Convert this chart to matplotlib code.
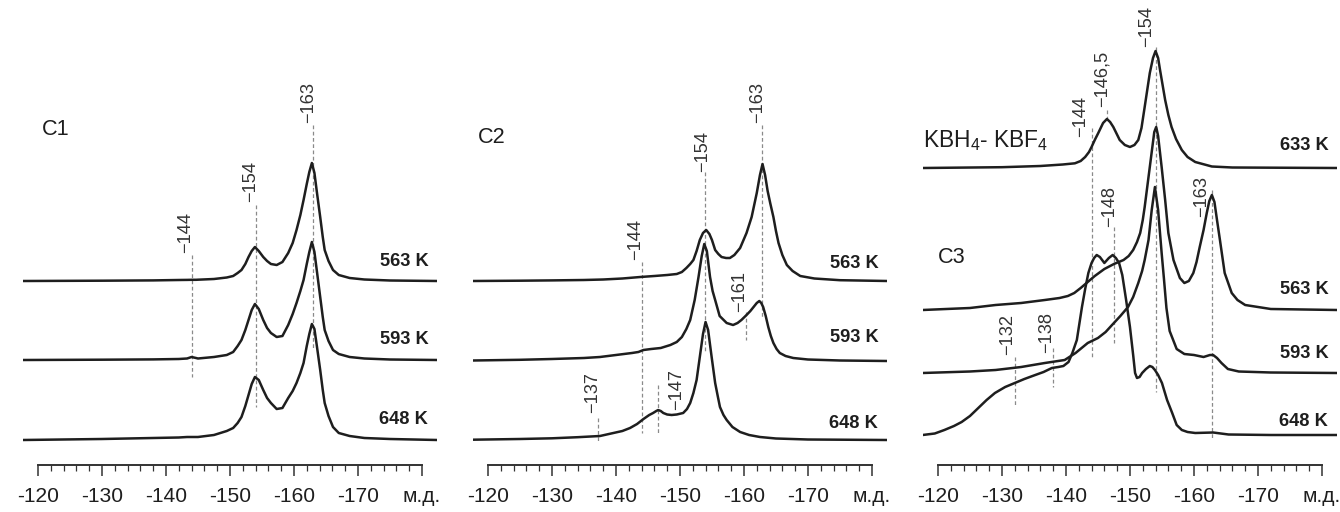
import matplotlib
matplotlib.use('Agg')
import matplotlib.pyplot as plt
from matplotlib import font_manager
from matplotlib.ticker import FixedLocator, FixedFormatter

# --- 11B spectra (ppm, intensity in arb. units) ---

# C1: one shift grid for all three temperatures
c1_ppm = [-117.6, -130, -138, -142, -143.3, -144, -144.7, -145, -147.5, -149.5,
          -150.5, -151.2, -151.8, -152.4, -152.9, -153.4, -153.9, -154.5, -155.2, -155.8,
          -156.4, -157.3, -158.2, -159.1, -159.8, -160.4, -161.0, -161.5, -162.0, -162.4,
          -162.8, -163.2, -163.6, -164.1, -164.5, -164.8, -165.4, -166.1, -167.0, -168.7,
          -171, -175, -182.4]
c1_563 = [0, 0.3, 0.6, 1, 1.1, 1.2, 1.2, 1.3, 2, 3.5,
          5, 8, 11, 17, 24, 30, 34, 30, 24, 20,
          17, 16, 19, 28, 38, 51, 66, 81, 97, 109,
          118, 108, 88, 64, 44, 31, 20, 11, 6, 3,
          1.5, 0.5, 0]
c1_593 = [0, 0.3, 0.6, 1, 1.5, 3, 2, 1.5, 3, 5,
          8, 14, 20, 30, 40, 50, 56, 51, 40, 32,
          27, 23, 24, 35, 46, 57, 69, 80, 96, 108,
          118, 108, 88, 63, 43, 30, 19, 10, 6, 3,
          1.5, 0.5, 0]
c1_648 = [0, 1, 2, 2.5, 3, 3, 3, 3, 5, 9,
          12, 17, 23, 34, 45, 56, 63, 60, 50, 42,
          37, 31, 32, 42, 49, 57, 67, 77, 94, 106,
          116, 111, 93, 70, 50, 37, 24, 13, 7, 4,
          2, 1, 0]

# C2
c2_563_ppm = [-117.6, -125, -130, -135, -138, -141, -143.8, -146, -148, -149.5,
              -150.3, -151.0, -151.6, -152.1, -152.6, -153.1, -153.6, -154.1, -154.6, -155.0,
              -155.5, -156.0, -156.5, -157.2, -157.8, -158.5, -159.4, -160.4, -161.2, -162.0,
              -162.5, -162.9, -163.3, -163.7, -164.1, -164.6, -165.0, -165.4, -166.0, -166.7,
              -167.6, -168.8, -171, -175, -182.4]
c2_563 = [0, 0.3, 0.6, 1, 1.5, 2.5, 4, 5, 6, 7,
          9, 13, 17, 21, 30, 41, 48, 51, 47, 41,
          31, 27, 24, 23, 23, 26, 33, 48, 64, 88,
          106, 117, 106, 90, 78, 64, 50, 38, 26, 16,
          10, 5, 2.5, 0.8, 0]
c2_593_ppm = [-117.6, -125, -130, -135, -137.5, -140, -142.5, -143.5, -144.3, -145.5,
              -147, -148.5, -149.5, -150.3, -151.0, -151.6, -152.3, -152.9, -153.4, -153.8,
              -154.2, -154.7, -155.1, -155.5, -156.2, -157.3, -158.3, -159.0, -159.6, -160.4,
              -161.0, -161.5, -162.0, -162.4, -162.7, -163.0, -163.4, -163.8, -164.2, -164.6,
              -165.1, -165.6, -166.5, -167.7, -170, -175, -182.4]
c2_593 = [0.5, 1.2, 2, 3, 4, 6, 8, 9, 11, 12,
          13, 16, 19, 24, 32, 41, 61, 84, 105, 117,
          110, 84, 70, 61, 45, 38, 36, 38, 41, 46,
          50, 54, 58, 60, 58, 54, 45, 34, 25, 18,
          12, 8, 5, 3, 1.5, 0.5, 0]
c2_648_ppm = [-117.6, -125, -130, -134, -137.5, -139.6, -141, -142.2, -143.3, -144.3,
              -145.2, -145.8, -146.3, -146.6, -147.0, -147.4, -148.0, -148.7, -149.5, -150.5,
              -151.1, -151.6, -152.1, -152.6, -153.1, -153.6, -154.0, -154.4, -154.95, -155.5,
              -155.9, -156.25, -156.8, -157.3, -158.2, -159.4, -160.8, -162.5, -165, -170,
              -182.4]
c2_648 = [0.3, 1, 1.7, 2.8, 4, 7, 9, 12, 16, 21,
          25, 27, 29, 30, 29, 27, 25.5, 25, 25.5, 27,
          31, 37, 47, 60, 83, 106, 118, 110, 83, 57,
          44, 33, 25, 20, 13, 8, 5, 3, 1.5, 0.5,
          0]

# C3 and the KBH4-KBF4 reference
c3_633_ppm = [-117.6, -130, -136, -139.5, -141.4, -142.3, -143.0, -143.6, -144.0, -144.5,
              -145.05, -145.8, -146.4, -146.9, -147.4, -148.4, -149.2, -150.0, -150.7, -151.3,
              -151.8, -152.3, -152.7, -153.1, -153.6, -154.0, -154.4, -154.7, -155.1, -155.5,
              -156.0, -156.5, -157.2, -158.1, -159.0, -160.2, -162.8, -166, -182.4]
c3_633 = [0, 0.8, 2, 3.5, 4.7, 7, 11, 16, 21, 28,
          35, 45, 49, 46, 41, 28, 23, 21, 23, 28,
          40, 61, 78, 95, 110, 117, 110, 98, 83, 68,
          53, 41, 29, 18, 11, 6, 1.5, 0.5, 0]
c3_563_ppm = [-117.6, -125, -129, -133, -136.7, -139, -140.3, -141.3, -142.3, -143.4,
              -144.5, -146, -147.5, -149.0, -149.8, -150.5, -151.1, -151.6, -152.0, -152.3,
              -152.7, -153.1, -153.5, -153.8, -154.1, -154.4, -154.95, -155.5, -156.0, -156.8,
              -157.8, -158.5, -159.2, -159.9, -160.4, -160.9, -161.5, -162.0, -162.4, -162.8,
              -163.2, -163.6, -164.06, -164.8, -165.9, -166.8, -168, -172, -182.4]
c3_563 = [0, 2, 5, 7, 10, 12, 14, 17, 22, 28,
          34, 41, 46, 50, 54, 60, 68, 77, 90, 103,
          123, 143, 163, 178, 183, 174, 143, 110, 77, 50,
          32, 27, 29, 37, 48, 63, 80, 97, 109, 115,
          108, 90, 70, 37, 17, 10, 5, 1, 0]
c3_593_ppm = [-117.6, -125, -129, -133, -136.7, -139.8, -141.5, -143.4, -145.0, -146.2,
              -147.2, -148.5, -149.7, -150.5, -151.3, -151.9, -152.3, -152.9, -153.4, -153.9,
              -154.4, -154.95, -155.3, -155.7, -156.2, -157.3, -158.5, -160.0, -161.5, -162.5,
              -163.0, -163.6, -164.3, -165.3, -167, -172, -182.4]
c3_593 = [0, 1.5, 3, 6, 10, 13, 20, 30, 35, 41,
          48, 57, 66, 76, 90, 102, 113, 133, 163, 186,
          163, 120, 95, 65, 42, 24, 19, 18, 16, 18,
          18, 15, 10, 4, 1.5, 0.5, 0]
c3_648_ppm = [-117.6, -119.5, -121, -122.5, -123.7, -125, -126.3, -127.6, -128.9, -130.5,
              -132, -133.5, -135.2, -136.5, -137.8, -138.8, -139.6, -140.4, -141.0, -141.7,
              -142.5, -143.0, -143.5, -144.0, -144.4, -144.8, -145.3, -146.0, -146.7, -147.3,
              -147.8, -148.3, -148.8, -149.4, -150.0, -150.5, -150.8, -151.1, -151.5, -151.9,
              -152.5, -153.1, -153.5, -153.9, -154.4, -155.0, -155.8, -156.6, -157.3, -158.1,
              -159.0, -160.2, -163.0, -165.4, -172, -182.4]
c3_648 = [0, 1.5, 5, 9, 13, 19, 27, 35, 42, 48,
          52, 56, 60, 63, 67, 68, 69, 73, 82, 95,
          128, 146, 162, 172, 177, 180, 178, 172, 177, 180,
          177, 172, 160, 135, 108, 80, 62, 57, 58, 62,
          66, 69, 68, 65, 60, 52, 35, 22, 10, 5,
          3, 2, 2.5, 0.5, 0, 0]

# marked shifts (dashed lines) and their labels
c1_peaks = [-144, -154, -163]
c1_peak_labels = ['\u2212144', '\u2212154', '\u2212163']
c2_peaks = [-144, -153.9, -162.8, -160.3, -146.6, -137.2]
c2_peak_labels = ['\u2212144', '\u2212154', '\u2212163', '\u2212161', '\u2212147', '\u2212137']
c3_peaks = [-154, -146.4, -144, -147.5, -162.8, -132, -138]
c3_peak_labels = ['\u2212154', '\u2212146,5', '\u2212144', '\u2212148', '\u2212163', '\u2212132', '\u2212138']

tick_values = [-120, -130, -140, -150, -160, -170, -180]
tick_labels = ['-120', '-130', '-140', '-150', '-160', '-170', 'м.д.']

# --- layout (pixels of the 1340x512 picture, y measured from the top) ---
# dashed line: top, bottom, label bottom, label x shift, label side
c1_marks = [(255, 377, 253, 0, 'l'), (205, 407, 202, 1, 'l'), (125, 350, 123, 1, 'l')]
c2_marks = [(262, 433, 260, 0, 'l'), (172, 353, 172, 3, 'l'), (125, 317, 123, 1, 'l'),
            (312, 340, 312, -1, 'l'), (385, 433, 410, 10, 'r'), (418, 443, 413, 0, 'l')]
c3_marks = [(47, 392, 47, -3, 'l'), (110, 119, 107, 1, 'l'), (128, 358, 137, -5, 'l'),
            (227, 343, 227, 1, 'l'), (190, 440, 217, -5, 'l'), (357, 407, 355, -2, 'l'),
            (348, 387, 353, -1, 'l')]

available = {f.name for f in font_manager.fontManager.ttflist}
if 'Liberation Sans Narrow' in available:
    FONT, k = 'Liberation Sans Narrow', 1.0
else:
    FONT, k = 'Liberation Sans', 0.82
plt.rcParams['font.family'] = [FONT, 'DejaVu Sans']
plt.rcParams['mathtext.fontset'] = 'custom'
plt.rcParams['mathtext.rm'] = FONT
plt.rcParams['mathtext.it'] = FONT

W, H = 1340, 512
PX = 6.4                    # pixels per ppm
AX_TOP, SPINE = 0, 465
XLIM = (-117.6, -182.4)
INK = '#1e1e1e'

panels = [
    dict(left=22.6,
         curves=[(c1_ppm, c1_563, 281, '563 K', 262),
                 (c1_ppm, c1_593, 360, '593 K', 340),
                 (c1_ppm, c1_648, 440, '648 K', 420)],
         peaks=c1_peaks, labels=c1_peak_labels, marks=c1_marks,
         titles=[('C1', -120.6, 135, 19)]),
    dict(left=472.6,
         curves=[(c2_563_ppm, c2_563, 281, '563 K', 264),
                 (c2_593_ppm, c2_593, 361, '593 K', 338),
                 (c2_648_ppm, c2_648, 440, '648 K', 424)],
         peaks=c2_peaks, labels=c2_peak_labels, marks=c2_marks,
         titles=[('C2', -118.4, 143, 19)]),
    dict(left=922.6,
         curves=[(c3_633_ppm, c3_633, 168, '633 K', 146),
                 (c3_563_ppm, c3_563, 310, '563 K', 289),
                 (c3_593_ppm, c3_593, 373, '593 K', 353),
                 (c3_648_ppm, c3_648, 435, '648 K', 421)],
         peaks=c3_peaks, labels=c3_peak_labels, marks=c3_marks,
         titles=[('KBH$_4$- KBF$_4$', -117.6, 147, 20), ('C3', -120.0, 263, 19)]),
]

fig = plt.figure(figsize=(W / 100, H / 100), dpi=100)
width_px = (XLIM[0] - XLIM[1]) * PX

for p in panels:
    ax = fig.add_axes([p['left'] / W, (H - SPINE) / H, width_px / W, (SPINE - AX_TOP) / H])
    ax.set_xlim(*XLIM)
    ax.set_ylim(SPINE, AX_TOP)

    for ppm, inten, base, temp, ly in p['curves']:
        ax.plot(ppm, [base - v for v in inten], color=INK, lw=1.8, zorder=3,
                solid_joinstyle='round')
        ax.text(-181.0, ly, temp, ha='right', va='center', fontsize=16 * k,
                fontweight='bold', color=INK)

    for x, lab, (top, bot, lbot, dx, side) in zip(p['peaks'], p['labels'], p['marks']):
        ax.plot([x, x], [top, bot], color='#8a8a8a', lw=0.9, ls=(0, (3, 2)), zorder=1)
        if side == 'l':
            ax.text(x - (dx + 3) / PX, lbot, lab, rotation=90, ha='right', va='bottom',
                    fontsize=16 * k, color='#333333')
        else:
            ax.text(x - dx / PX, lbot, lab, rotation=90, ha='left', va='bottom',
                    fontsize=16 * k, color='#333333')

    for txt, x, y, fs in p['titles']:
        ax.text(x, y, txt, ha='left', va='baseline', fontsize=fs * k, color=INK)

    for side in ('left', 'right', 'top'):
        ax.spines[side].set_visible(False)
    ax.spines['bottom'].set_bounds(-120, -180)
    ax.spines['bottom'].set_linewidth(1.4)
    ax.spines['bottom'].set_color('#333333')
    ax.set_yticks([])
    ax.xaxis.set_major_locator(FixedLocator(tick_values))
    ax.xaxis.set_major_formatter(FixedFormatter(tick_labels))
    minors = [v for v in range(-122, -180, -2) if v % 10 != 0]
    ax.xaxis.set_minor_locator(FixedLocator(minors))
    ax.tick_params(axis='x', which='major', direction='out', length=8, width=1.1,
                   color='#333333', pad=8, labelsize=18.5 * k, labelcolor=INK)
    ax.tick_params(axis='x', which='minor', direction='out', length=4.5, width=0.9,
                   color='#333333')
    ax.patch.set_alpha(0)

fig.savefig('out.png', dpi=100)
